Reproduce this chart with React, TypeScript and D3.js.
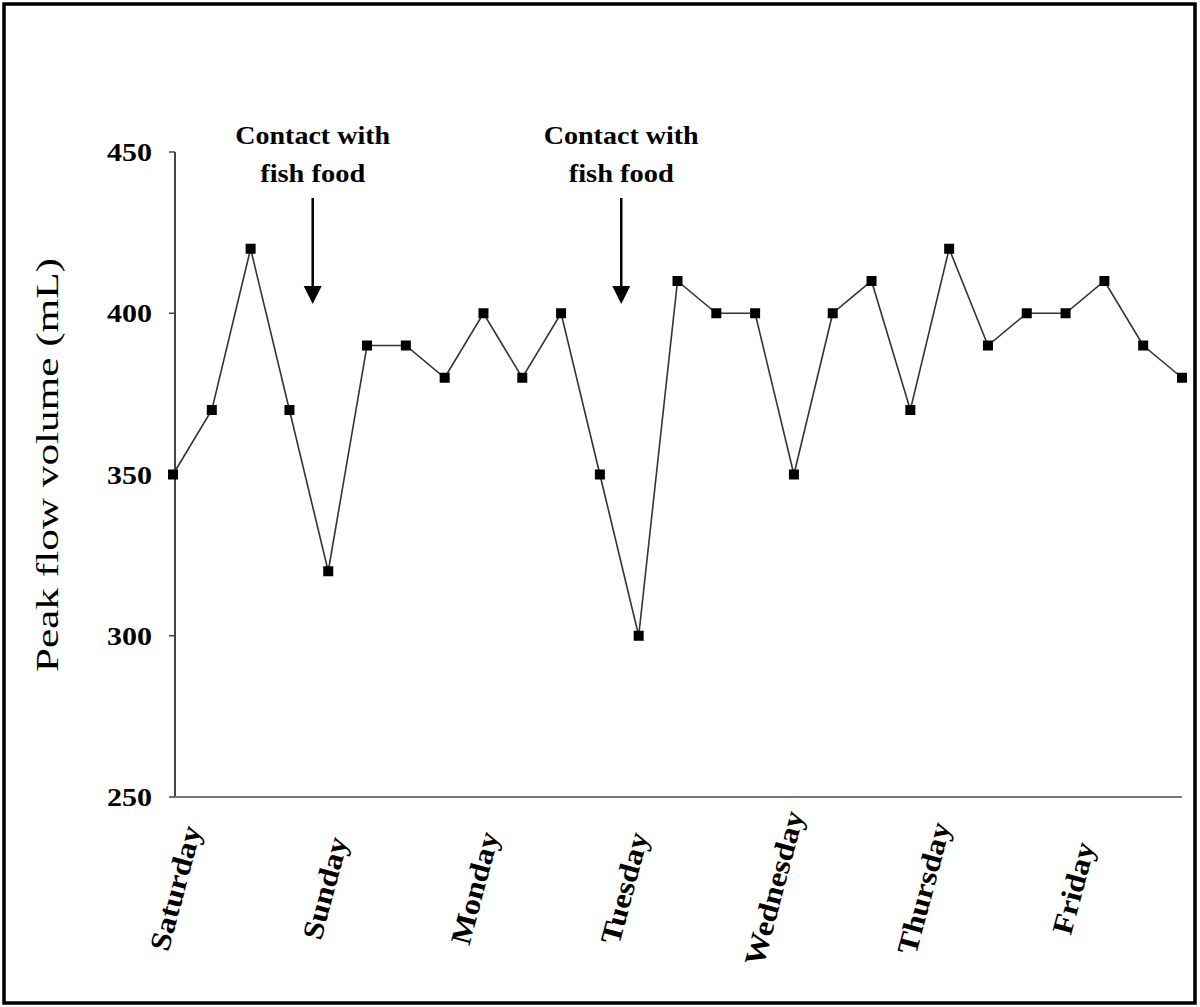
import React from "react";
import * as d3 from "d3";

const days = ["Saturday", "Sunday", "Monday", "Tuesday", "Wednesday", "Thursday", "Friday"];
const peakFlow = [350, 370, 420, 370, 320, 390, 390, 380, 400, 380, 400, 350, 300, 410, 400, 400, 350, 400, 410, 370, 420, 390, 400, 400, 410, 390, 380];
const yTicks = [250, 300, 350, 400, 450];
const annotations = [
  { index: 3.6, lines: ["Contact with", "fish food"] },
  { index: 11.55, lines: ["Contact with", "fish food"] },
];

const W = 1200;
const H = 1007;

export default function App() {
  const x = d3.scaleLinear().domain([0, peakFlow.length - 1]).range([173, 1182]);
  const y = d3.scaleLinear().domain([250, 450]).range([797, 152]);
  const line = d3
    .line<number>()
    .x((_, i) => x(i))
    .y((d) => y(d));
  const perDay = peakFlow.length / days.length;
  const serif = "'Liberation Serif', 'Times New Roman', serif";

  return (
    <svg
      width={W}
      height={H}
      style={{ position: "absolute", left: 0, top: 0, display: "block", background: "#fff" }}
      fontFamily={serif}
    >
      <rect x={0} y={0} width={W} height={H} fill="#fff" />
      <rect x={4} y={4} width={1191} height={999} fill="none" stroke="#000" strokeWidth={3.5} />

      {/* axes */}
      <line x1={x(0) + 2} x2={x(0) + 2} y1={y(450)} y2={y(250)} stroke="#444" strokeWidth={2} />
      <line x1={x(0) + 2} x2={x(peakFlow.length - 1)} y1={y(250)} y2={y(250)} stroke="#777" strokeWidth={2} />
      {yTicks.map((t) => (
        <g key={t}>
          <line x1={x(0) - 4} x2={x(0) + 2} y1={y(t)} y2={y(t)} stroke="#444" strokeWidth={1.5} />
          <text
            x={152}
            y={y(t)}
            dy="0.35em"
            textAnchor="end"
            fontSize={26}
            fontWeight="bold"
            textLength={45}
            lengthAdjust="spacingAndGlyphs"
          >
            {t}
          </text>
        </g>
      ))}

      {/* day labels */}
      {days.map((d, i) => {
        const cx = x(i * perDay) + 2;
        return (
          <text
            key={d}
            transform={`translate(${cx},888) rotate(-75) scale(1.12,1)`}
            textAnchor="middle"
            dy="0.35em"
            fontSize={29}
            fontWeight="bold"
          >
            {d}
          </text>
        );
      })}

      {/* y axis title */}
      <text
        transform="translate(47,465) rotate(-90)"
        textAnchor="middle"
        dy="0.35em"
        fontSize={32}
        textLength={414}
        lengthAdjust="spacingAndGlyphs"
      >
        Peak flow volume (mL)
      </text>

      {/* annotations */}
      {annotations.map((a, k) => {
        const ax = x(a.index);
        return (
          <g key={k}>
            {a.lines.map((l, j) => (
              <text
                key={j}
                x={ax}
                y={144 + j * 38}
                textAnchor="middle"
                fontSize={26}
                fontWeight="bold"
                textLength={j === 0 ? 155 : 105}
                lengthAdjust="spacingAndGlyphs"
              >
                {l}
              </text>
            ))}
            <line x1={ax} x2={ax} y1={198} y2={288} stroke="#000" strokeWidth={2.5} />
            <path d={`M${ax - 9},${286} L${ax + 9},${286} L${ax},${304} Z`} fill="#000" />
          </g>
        );
      })}

      {/* series */}
      <path d={line(peakFlow) ?? ""} fill="none" stroke="#333" strokeWidth={1.6} />
      {peakFlow.map((v, i) => (
        <rect key={i} x={x(i) - 5} y={y(v) - 5} width={10} height={10} fill="#000" />
      ))}
    </svg>
  );
}
